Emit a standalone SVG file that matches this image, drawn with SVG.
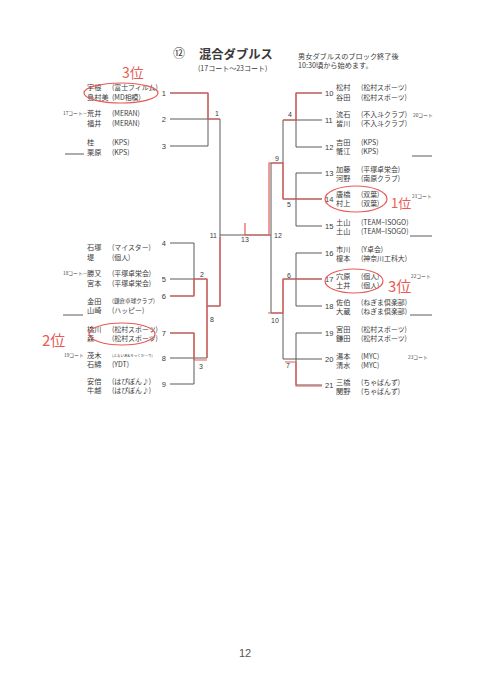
<svg xmlns="http://www.w3.org/2000/svg" width="480" height="681" viewBox="0 0 480 681">
<style>
text{font-family:"Noto Sans CJK JP","Noto Sans",sans-serif;fill:#3a3a3a}
.n{font-size:7.2px}
.a{font-size:6.9px}
.s{font-size:4.8px}
.num{font-size:7.5px;font-family:"Liberation Sans",sans-serif}
.lbl{font-size:7px;font-family:"Liberation Sans",sans-serif}
.ln{fill:none;stroke:#5a5a5a;stroke-width:1}
.rd{fill:none;stroke:#e85a55;stroke-width:1.2}
.hw{fill:#e85a55;font-family:"Noto Sans CJK JP",sans-serif}
</style>
<rect width="480" height="681" fill="#ffffff"/>
<g id="title">
<text x="173" y="58" style="font-size:12px">⑫</text>
<text x="199" y="58.5" style="font-size:12.3px;font-weight:bold">混合ダブルス</text>
<text x="198" y="71" style="font-size:7px">(17コート〜23コート)</text>
<text x="298" y="59" style="font-size:7.2px">男女ダブルスのブロック終了後</text>
<text x="298" y="68" style="font-size:7.2px">10:30頃から始めます。</text>
</g>
<g id="connectors">
<path class="ln" d="M170,93 H208 V146 H170 M170,119 H220 V306 M207,306 H220 M220,235 H271 M170,243 H194 V296 H170 M170,279 H207 V358 M170,333 H194 V384 H170 M170,358 H207"/>
<path class="ln" d="M322,93 H296 V147 H322 M322,120 H283 V199 H322 M322,173 H296 V226 H322 M271,163 H283 M271,163 V313 H283 M322,253 H296 V306 H322 M322,279 H283 V359 H322 M322,333 H296 V385 H322"/>
<path class="ln" d="M65,154 H84 M63,315 H83 M412,156 H432 M410,236 H432 M410,315 H432"/>
</g>
<g id="match-labels">
<text class="lbl" x="215" y="116">1</text>
<text class="lbl" x="200" y="277">2</text>
<text class="lbl" x="199" y="369">3</text>
<text class="lbl" x="217" y="238" text-anchor="end">11</text>
<text class="lbl" x="210" y="322">8</text>
<text class="lbl" x="245" y="242" text-anchor="middle">13</text>
<text class="lbl" x="288" y="117">4</text>
<text class="lbl" x="275" y="161">9</text>
<text class="lbl" x="287" y="207">5</text>
<text class="lbl" x="274" y="238">12</text>
<text class="lbl" x="287" y="278">6</text>
<text class="lbl" x="271" y="323">10</text>
<text class="lbl" x="286" y="368">7</text>
</g>
<g id="p1"><text class="num" x="166" y="96" text-anchor="end">1</text><text class="n" x="87" y="90">宇根</text><text class="a" x="112" y="90">(富士フィルム)</text><text class="n" x="87" y="100">島村美</text><text class="a" x="112" y="100">(MD相模)</text></g>
<g id="p2"><text class="s" x="63" y="115">17コート—</text><text class="num" x="166" y="122" text-anchor="end">2</text><text class="n" x="87" y="116">荒井</text><text class="a" x="112" y="116">(MERAN)</text><text class="n" x="87" y="126">福井</text><text class="a" x="112" y="126">(MERAN)</text></g>
<g id="p3"><text class="num" x="166" y="149" text-anchor="end">3</text><text class="n" x="87" y="145">桂</text><text class="a" x="112" y="145">(KPS)</text><text class="n" x="87" y="155">栗原</text><text class="a" x="112" y="155">(KPS)</text></g>
<g id="p4"><text class="num" x="166" y="246" text-anchor="end">4</text><text class="n" x="87" y="250">石塚</text><text class="a" x="112" y="250">(マイスター)</text><text class="n" x="87" y="260">堤</text><text class="a" x="112" y="260">(個人)</text></g>
<g id="p5"><text class="s" x="63" y="275">18コート—</text><text class="num" x="166" y="282" text-anchor="end">5</text><text class="n" x="87" y="276">勝又</text><text class="a" x="112" y="276">(平塚卓栄会)</text><text class="n" x="87" y="286">宮本</text><text class="a" x="112" y="286">(平塚卓栄会)</text></g>
<g id="p6"><text class="num" x="166" y="299" text-anchor="end">6</text><text class="n" x="87" y="304">金田</text><text style="font-size:5.6px" x="112" y="303">(鎌倉卓球クラブ)</text><text class="n" x="87" y="313">山崎</text><text class="a" x="112" y="313">(ハッピー)</text></g>
<g id="p7"><text class="num" x="166" y="336" text-anchor="end">7</text><text class="n" x="87" y="332">橋川</text><text class="a" x="112" y="332">(松村スポーツ)</text><text class="n" x="87" y="341">森</text><text class="a" x="112" y="341">(松村スポーツ)</text></g>
<g id="p8"><text class="s" x="64" y="357">19コート</text><text class="num" x="166" y="361" text-anchor="end">8</text><text class="n" x="87" y="358">茂木</text><text style="font-size:3.6px" x="112" y="357">(ふぁいあ&amp;ろっくかーり)</text><text class="n" x="87" y="367">石綿</text><text class="a" x="112" y="367">(YDT)</text></g>
<g id="p9"><text class="num" x="166" y="387" text-anchor="end">9</text><text class="n" x="87" y="384">安倍</text><text class="a" x="112" y="384">(はぴぽん♪)</text><text class="n" x="87" y="393">牛越</text><text class="a" x="112" y="393">(はぴぽん♪)</text></g>
<g id="p10"><text class="num" x="325" y="96">10</text><text class="n" x="336" y="90">松村</text><text class="a" x="361" y="90">(松村スポーツ)</text><text class="n" x="336" y="100">谷田</text><text class="a" x="361" y="100">(松村スポーツ)</text></g>
<g id="p11"><text class="num" x="325" y="123">11</text><text class="n" x="336" y="117">流石</text><text class="a" x="361" y="117">(不入斗クラブ)</text><text class="n" x="336" y="126">皆川</text><text class="a" x="361" y="126">(不入斗クラブ)</text><text class="s" x="413" y="117">20コート</text></g>
<g id="p12"><text class="num" x="325" y="150">12</text><text class="n" x="336" y="145">吉田</text><text class="a" x="361" y="145">(KPS)</text><text class="n" x="336" y="154">蟹江</text><text class="a" x="361" y="154">(KPS)</text></g>
<g id="p13"><text class="num" x="325" y="176">13</text><text class="n" x="336" y="172">加藤</text><text class="a" x="361" y="172">(平塚卓栄会)</text><text class="n" x="336" y="181">河野</text><text class="a" x="361" y="181">(南原クラブ)</text></g>
<g id="p14"><text class="num" x="325" y="202">14</text><text class="n" x="336" y="197">唐橋</text><text class="a" x="361" y="197">(双葉)</text><text class="n" x="336" y="206">村上</text><text class="a" x="361" y="206">(双葉)</text><text class="s" x="412" y="198">21コート</text></g>
<g id="p15"><text class="num" x="325" y="229">15</text><text class="n" x="336" y="225">土山</text><text class="a" x="361" y="225">(TEAM−ISOGO)</text><text class="n" x="336" y="234">土山</text><text class="a" x="361" y="234">(TEAM−ISOGO)</text></g>
<g id="p16"><text class="num" x="325" y="256">16</text><text class="n" x="336" y="252">市川</text><text class="a" x="361" y="252">(Y卓会)</text><text class="n" x="336" y="261">榎本</text><text class="a" x="361" y="261">(神奈川工科大)</text></g>
<g id="p17"><text class="num" x="325" y="282">17</text><text class="n" x="336" y="279">穴原</text><text class="a" x="361" y="279">(個人)</text><text class="n" x="336" y="288">土井</text><text class="a" x="361" y="288">(個人)</text><text class="s" x="411" y="278">22コート</text></g>
<g id="p18"><text class="num" x="325" y="309">18</text><text class="n" x="336" y="305">佐伯</text><text class="a" x="361" y="305">(ねぎま倶楽部)</text><text class="n" x="336" y="314">大蔵</text><text class="a" x="361" y="314">(ねぎま倶楽部)</text></g>
<g id="p19"><text class="num" x="325" y="336">19</text><text class="n" x="336" y="332">宮田</text><text class="a" x="361" y="332">(松村スポーツ)</text><text class="n" x="336" y="341">鎌田</text><text class="a" x="361" y="341">(松村スポーツ)</text></g>
<g id="p20"><text class="num" x="325" y="362">20</text><text class="n" x="336" y="359">湯本</text><text class="a" x="361" y="359">(MYC)</text><text class="n" x="336" y="368">清水</text><text class="a" x="361" y="368">(MYC)</text><text class="s" x="408" y="359">23コート</text></g>
<g id="p21"><text class="num" x="325" y="388">21</text><text class="n" x="336" y="385">三橋</text><text class="a" x="361" y="385">(ちゃぱんず)</text><text class="n" x="336" y="394">関野</text><text class="a" x="361" y="394">(ちゃぱんず)</text></g>
<g id="annotations">
<path class="rd" d="M170,93 H208 V119 H220 M220,237 V306 H207 M170,296 H194 V279 H207 V358 M170,333 H194 V360 H207 M245,223 V235 H269 V163 H283 V199 H322 M322,93 H296 V120 H283 M322,279 H283 V313 H268 M285,362 H296 V386 H322"/>
<ellipse class="rd" cx="121" cy="93" rx="37" ry="10"/>
<ellipse class="rd" cx="122" cy="334" rx="33" ry="11"/>
<ellipse class="rd" cx="356" cy="199" rx="31" ry="13"/>
<ellipse class="rd" cx="354" cy="281" rx="29" ry="12"/>
<text class="hw" x="122" y="78" style="font-size:14px">3位</text>
<text class="hw" x="42" y="346" style="font-size:15px">2位</text>
<text class="hw" x="391" y="208" style="font-size:13px">1位</text>
<text class="hw" x="388" y="292" style="font-size:15px">3位</text>
</g>
<g id="page"><text x="245" y="657" text-anchor="middle" style="font-size:11px;font-family:'Liberation Sans',sans-serif;fill:#555">12</text></g>
</svg>
